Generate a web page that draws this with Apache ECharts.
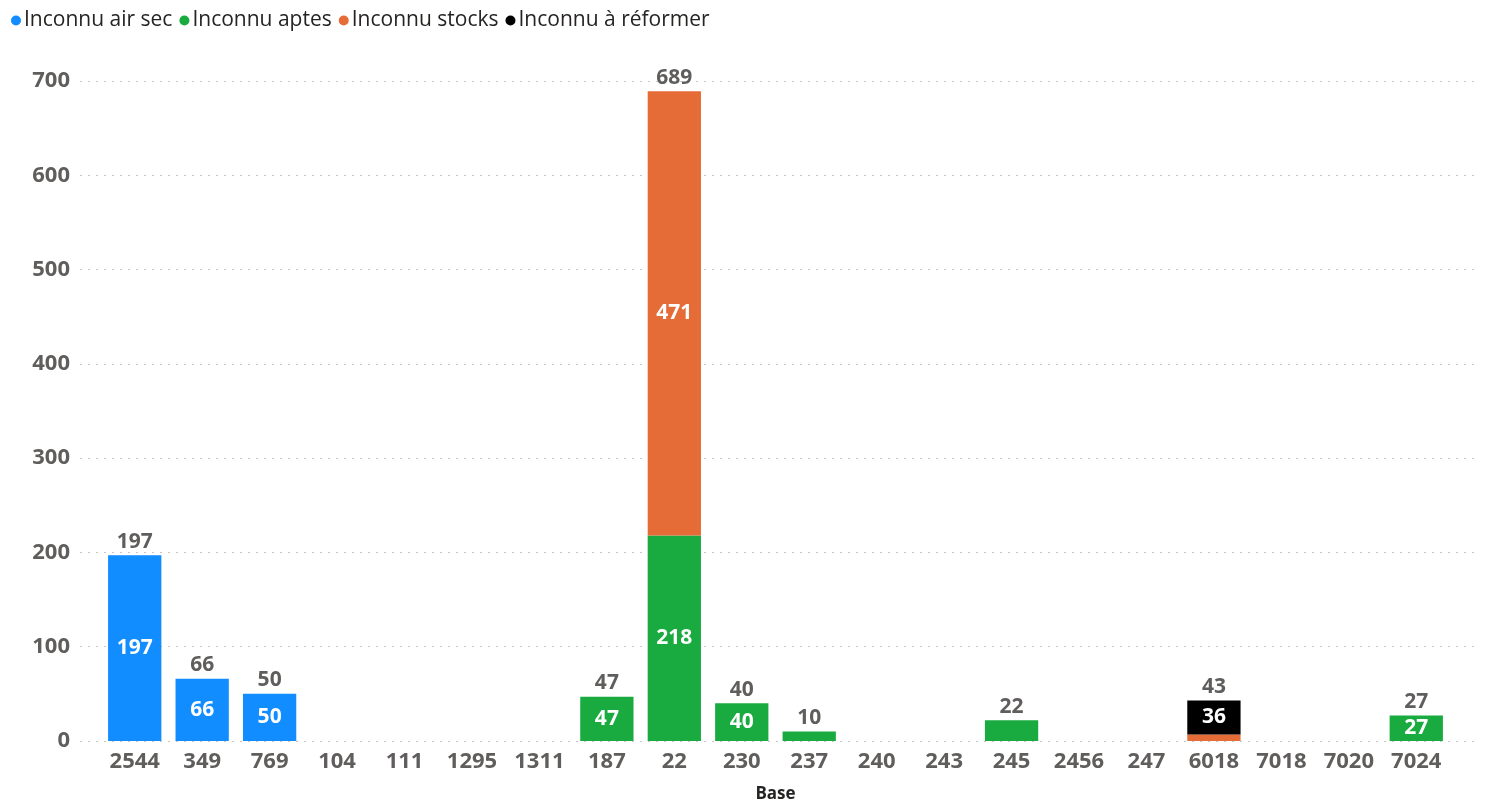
<!DOCTYPE html>
<html>
<head>
<meta charset="utf-8">
<script src="https://cdn.jsdelivr.net/npm/echarts@6/dist/echarts.min.js"></script>
<style>html,body{margin:0;padding:0;background:#fff}#c{width:1487px;height:805px}</style>
</head>
<body>
<div id="c"></div>
<script>
const categories = ['2544','349','769','104','111','1295','1311','187','22','230','237','240','243','245','2456','247','6018','7018','7020','7024'];
const airSec   = [197, 66, 50, null, null, null, null, null, null, null, null, null, null, null, null, null, null, null, null, null];
const aptes    = [null, null, null, null, null, null, null, 47, 218, 40, 10, null, null, 22, null, null, null, null, null, 27];
const stocks   = [null, null, null, null, null, null, null, null, 471, null, null, null, null, null, null, null, 7, null, null, null];
const reformer = [null, null, null, null, null, null, null, null, null, null, null, null, null, null, null, null, 36, null, null, null];
const yTicks = [0, 100, 200, 300, 400, 500, 600, 700];

const totals = categories.map((_, i) => {
  const s = [airSec, aptes, stocks, reformer].reduce((a, arr) => a + (arr[i] || 0), 0);
  return s > 0 ? s : null;
});

const FONT = '"Open Sans", "Noto Sans", sans-serif';
const GRAY = '#605E5C';
const insideLabel = {
  show: true, position: 'inside', color: '#fff', fontFamily: FONT, fontWeight: 'bold', fontSize: 21,
  formatter: p => (p.value != null && p.value >= 25) ? String(p.value) : ''
};
function mk(name, data, color) {
  return { name, type: 'bar', stack: 'tot', data, barCategoryGap: '21%', xAxisIndex: 0, yAxisIndex: 0,
    itemStyle: { color }, label: insideLabel, emphasis: { disabled: true } };
}
const chart = echarts.init(document.getElementById('c'));
chart.setOption({
  animation: false,
  legend: {
    left: 6, top: 5, icon: 'circle', itemWidth: 10, itemHeight: 10, itemGap: 7,
    textStyle: { fontFamily: FONT, fontSize: 21, color: '#252423', padding: [0, 0, 0, -2] },
    data: ['Inconnu air sec', 'Inconnu aptes', 'Inconnu stocks', 'Inconnu à réformer']
  },
  grid: [
    { left: 101, right: 37, top: 81, bottom: 64, outerBoundsMode: 'none', containLabel: false },
    { left: 80, right: 12, top: 81, bottom: 64, outerBoundsMode: 'none', containLabel: false }
  ],
  xAxis: [{
    type: 'category', data: categories, gridIndex: 0,
    name: 'Base', nameLocation: 'middle', nameGap: 45,
    nameTextStyle: { fontFamily: FONT, fontSize: 17, fontWeight: 'bold', color: '#252423' },
    axisLine: { show: false }, axisTick: { show: false },
    axisLabel: { fontFamily: FONT, fontSize: 22, fontWeight: 'bold', color: GRAY, margin: 10, interval: 0 }
  }, {
    type: 'value', gridIndex: 1, show: false, min: 0, max: 1
  }],
  yAxis: [{
    type: 'value', gridIndex: 0, min: yTicks[0], max: yTicks[yTicks.length - 1], interval: 100,
    axisLine: { show: false }, axisTick: { show: false }, axisLabel: { show: false }, splitLine: { show: false }
  }, {
    type: 'value', gridIndex: 1, min: yTicks[0], max: yTicks[yTicks.length - 1], interval: 100,
    axisLine: { show: false }, axisTick: { show: false },
    axisLabel: { fontFamily: FONT, fontSize: 22, fontWeight: 'bold', color: GRAY, margin: 10 },
    splitLine: { lineStyle: { type: [2, 6], color: '#C8C6C4', width: 1 } }
  }],
  series: [
    mk('Inconnu air sec', airSec, '#118DFF'),
    mk('Inconnu aptes', aptes, '#1AAB40'),
    mk('Inconnu stocks', stocks, '#E66C37'),
    mk('Inconnu à réformer', reformer, '#000000'),
    { name: 'Total', type: 'bar', stack: 'tot', barCategoryGap: '21%', xAxisIndex: 0, yAxisIndex: 0,
      data: totals.map(t => t == null ? null : 0),
      itemStyle: { color: 'transparent' }, silent: true,
      label: { show: true, position: 'top', distance: 3, color: GRAY, fontFamily: FONT, fontWeight: 'bold', fontSize: 21,
        formatter: p => totals[p.dataIndex] == null ? '' : String(totals[p.dataIndex]) } }
  ]
});
</script>
</body>
</html>
